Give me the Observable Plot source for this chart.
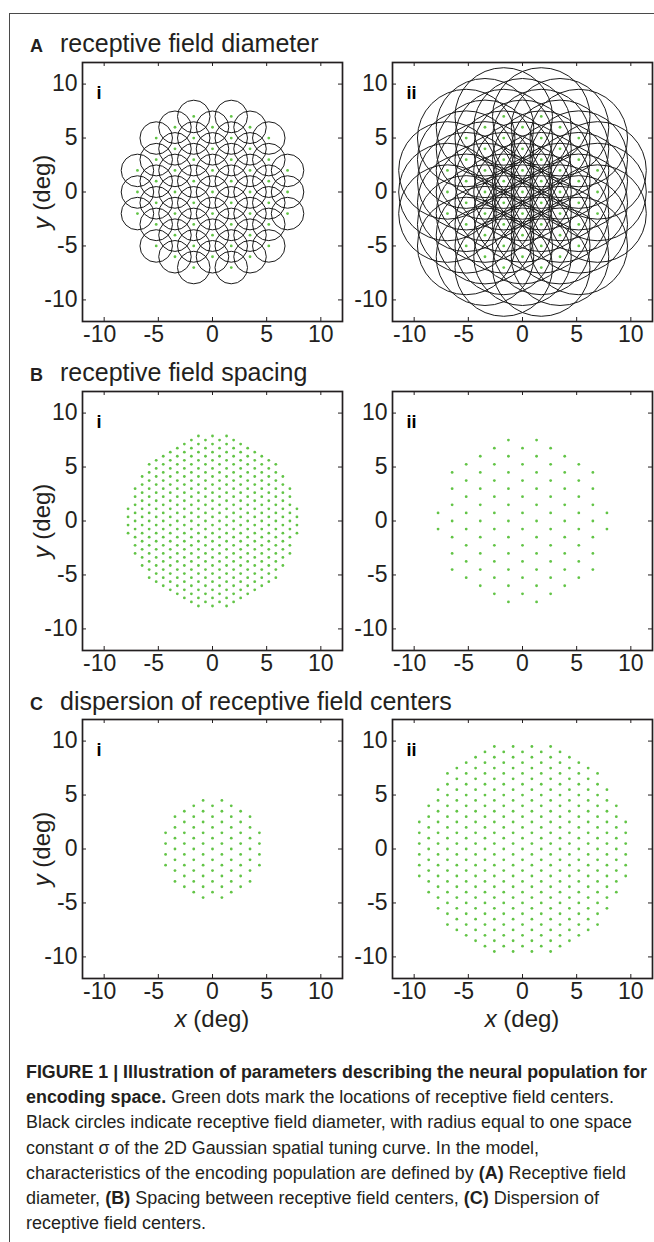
<!DOCTYPE html>
<html>
<head>
<meta charset="utf-8">
<script src="https://cdn.jsdelivr.net/npm/d3@7"></script>
<script src="https://cdn.jsdelivr.net/npm/@observablehq/plot@0.6"></script>
<style>
  html, body { margin: 0; padding: 0; background: #fff; }
  #fig { position: relative; width: 654px; height: 1242px; overflow: hidden;
         font-family: "Liberation Sans", Arial, Helvetica, sans-serif; color: #231f20; }
  .rule-top { position: absolute; left: 9px; top: 13px; width: 645px; border-top: 1.4px solid #4a4a4a; }
  .rule-left { position: absolute; left: 9px; top: 13px; height: 1229px; border-left: 1.4px solid #4a4a4a; }
  .title { position: absolute; left: 30px; font-size: 25px; line-height: 1; white-space: nowrap; }
  .title b { display: inline-block; width: 30px; font-size: 18px; }
  .ylab { position: absolute; font-size: 24px; line-height: 1; white-space: nowrap;
          transform: translate(-50%, -50%) rotate(-90deg); }
  .xlab { position: absolute; font-size: 24px; line-height: 1; white-space: nowrap;
          transform: translate(-50%, -50%); }
  .panel { position: absolute; }
  .cap { position: absolute; left: 26px; font-size: 18px; line-height: 25px; white-space: nowrap;
         transform-origin: 0 50%; font-family: "Liberation Sans Narrow", "Liberation Sans", Arial, sans-serif; }
</style>
</head>
<body>
<div id="fig">
  <div class="rule-top"></div>
  <div class="rule-left"></div>
</div>
<script>
// ---- chart data -------------------------------------------------------
// Axis ticks shared by every panel (degrees of visual angle)
const tickValues = [-10, -5, 0, 5, 10];
const axisDomain = [-12, 12];

// Section letters, section titles and sub-panel labels
const sectionLetters = ["A", "B", "C"];
const sectionTitles = ["receptive field diameter", "receptive field spacing", "dispersion of receptive field centers"];
const panelLabels = ["i", "ii"];

// Population parameters per panel, in order A-i, A-ii, B-i, B-ii, C-i, C-ii (degrees)
const centerSpacing    = [2, 2, 0.75, 1.5, 1, 1];   // distance between neighbouring RF centers
const populationRadius = [8, 8, 8, 8, 5, 10];       // RF centers lie inside this radius
const evenColumnShift  = [0, 0, 0.5, 0.5, 0, 0];    // vertical lattice shift of even columns (fraction of spacing)
const rfRadius         = [1.5, 4.5, 0, 0, 0, 0];    // one space constant sigma (circles drawn when > 0)

// Caption text, line by line; bold runs flagged with true
const captionLines = [
  [[true, "FIGURE 1 | Illustration of parameters describing the neural population for"]],
  [[true, "encoding space."], [false, " Green dots mark the locations of receptive field centers."]],
  [[false, "Black circles indicate receptive field diameter, with radius equal to one space"]],
  [[false, "constant \u03c3 of the 2D Gaussian spatial tuning curve. In the model,"]],
  [[false, "characteristics of the encoding population are defined by "], [true, "(A)"], [false, " Receptive field"]],
  [[false, "diameter, "], [true, "(B)"], [false, " Spacing between receptive field centers, "], [true, "(C)"], [false, " Dispersion of"]],
  [[false, "receptive field centers."]]
];

// ---- layout ---------------------------------------------------------------
const ink = "#231f20";
const green = "#62c446";
const frameW = 260, frameH = 259;
const colLeft = [20, 346], colMarginLeft = [62, 46], colMarginRight = [6, 2];
const rowFrameTop = [62, 391, 719];
const titleTop = [31, 360, 689];
const marginTop = 6, marginBottom = 36;

// Hexagonal lattice of RF centers (columns spaced s*sqrt(3)/2 apart) inside the population radius
function centers(i) {
  const s = centerSpacing[i], R = populationRadius[i];
  const colStep = s * Math.sqrt(3) / 2;
  const kMax = Math.ceil(R / colStep), mMax = Math.ceil(R / s) + 1;
  const out = [];
  for (let k = -kMax; k <= kMax; k++) {
    const shift = (Math.abs(k) % 2 === 0 ? evenColumnShift[i] : evenColumnShift[i] + 0.5) * s;
    for (let m = -mMax; m <= mMax; m++) {
      const x = k * colStep, y = shift + m * s;
      if (Math.hypot(x, y) < R - 1e-6) out.push({x, y, r: rfRadius[i]});
    }
  }
  return out;
}

function drawPanel(i) {
  const col = i % 2, row = Math.floor(i / 2);
  const data = centers(i);
  const fmt = d => String(d);
  const marks = [];
  if (rfRadius[i] > 0) {
    marks.push(Plot.dot(data, {x: "x", y: "y", r: "r", fill: "none", stroke: "#1b1b1b", strokeWidth: 1}));
  }
  marks.push(
    Plot.dot(data, {x: "x", y: "y", r: 1.4, fill: green}),
    // inward ticks on all four sides
    Plot.tickX(tickValues, {x: d => d, insetTop: frameH - 4, stroke: ink, strokeWidth: 1}),
    Plot.tickX(tickValues, {x: d => d, insetBottom: frameH - 4, stroke: ink, strokeWidth: 1}),
    Plot.tickY(tickValues, {y: d => d, insetRight: frameW - 4, stroke: ink, strokeWidth: 1}),
    Plot.tickY(tickValues, {y: d => d, insetLeft: frameW - 4, stroke: ink, strokeWidth: 1}),
    Plot.frame({stroke: ink, strokeWidth: 1.7}),
    Plot.axisY(tickValues, {anchor: "left", tickSize: 0, tickPadding: 5, tickFormat: fmt, label: null, fill: ink}),
    // numerals centered on the tick, minus sign hanging to the left
    Plot.axisX(tickValues.filter(d => d < 0), {anchor: "bottom", tickSize: 0, tickPadding: 4, dx: -4.5, tickFormat: fmt, label: null, fill: ink}),
    Plot.axisX(tickValues.filter(d => d >= 0), {anchor: "bottom", tickSize: 0, tickPadding: 4, tickFormat: fmt, label: null, fill: ink}),
    Plot.text([panelLabels[col]], {text: d => d, frameAnchor: "top-left", dx: 14, dy: 24, textAnchor: "start",
      fontWeight: "bold", fontSize: 18, fill: "#000"})
  );
  const svg = Plot.plot({
    width: colMarginLeft[col] + frameW + colMarginRight[col],
    height: marginTop + frameH + marginBottom,
    marginLeft: colMarginLeft[col], marginRight: colMarginRight[col],
    marginTop, marginBottom,
    x: {domain: axisDomain, axis: null},
    y: {domain: axisDomain, axis: null},
    r: {type: "linear", domain: [0, axisDomain[1] - axisDomain[0]], range: [0, frameW]},
    style: {fontFamily: '"Liberation Sans", Arial, Helvetica, sans-serif', fontSize: "23px",
            color: ink, background: "transparent", overflow: "visible"},
    marks
  });
  const wrap = document.createElement("div");
  wrap.className = "panel";
  wrap.style.left = colLeft[col] + "px";
  wrap.style.top = (rowFrameTop[row] - marginTop) + "px";
  wrap.appendChild(svg);
  return wrap;
}

const fig = document.getElementById("fig");

sectionTitles.forEach((t, row) => {
  const el = document.createElement("div");
  el.className = "title";
  el.style.top = titleTop[row] + "px";
  el.innerHTML = `<b>${sectionLetters[row]}</b>${t}`;
  fig.appendChild(el);
  const yl = document.createElement("div");
  yl.className = "ylab";
  yl.style.left = "42px";
  yl.style.top = (rowFrameTop[row] + frameH / 2) + "px";
  yl.innerHTML = "<i>y</i> (deg)";
  fig.appendChild(yl);
});

for (let i = 0; i < 6; i++) fig.appendChild(drawPanel(i));

[0, 1].forEach(col => {
  const xl = document.createElement("div");
  xl.className = "xlab";
  xl.style.left = (colLeft[col] + colMarginLeft[col] + frameW / 2) + "px";
  xl.style.top = "1019px";
  xl.innerHTML = "<i>x</i> (deg)";
  fig.appendChild(xl);
});

// caption lines, each squeezed to its set width
const captionWidths = [621, 588, 606, 513, 600, 573, 180];
const capEls = captionLines.map((runs, n) => {
  const el = document.createElement("div");
  el.className = "cap";
  el.style.top = (1060 + n * 25.2) + "px";
  runs.forEach(([bold, txt]) => {
    const s = document.createElement(bold ? "b" : "span");
    s.textContent = txt;
    el.appendChild(s);
  });
  fig.appendChild(el);
  return el;
});
function fitCaption() {
  capEls.forEach((el, n) => {
    el.style.transform = "none";
    const w = el.getBoundingClientRect().width;
    el.style.transform = `scaleX(${captionWidths[n] / w})`;
  });
}
fitCaption();
if (document.fonts && document.fonts.ready) document.fonts.ready.then(fitCaption);
</script>
</body>
</html>
